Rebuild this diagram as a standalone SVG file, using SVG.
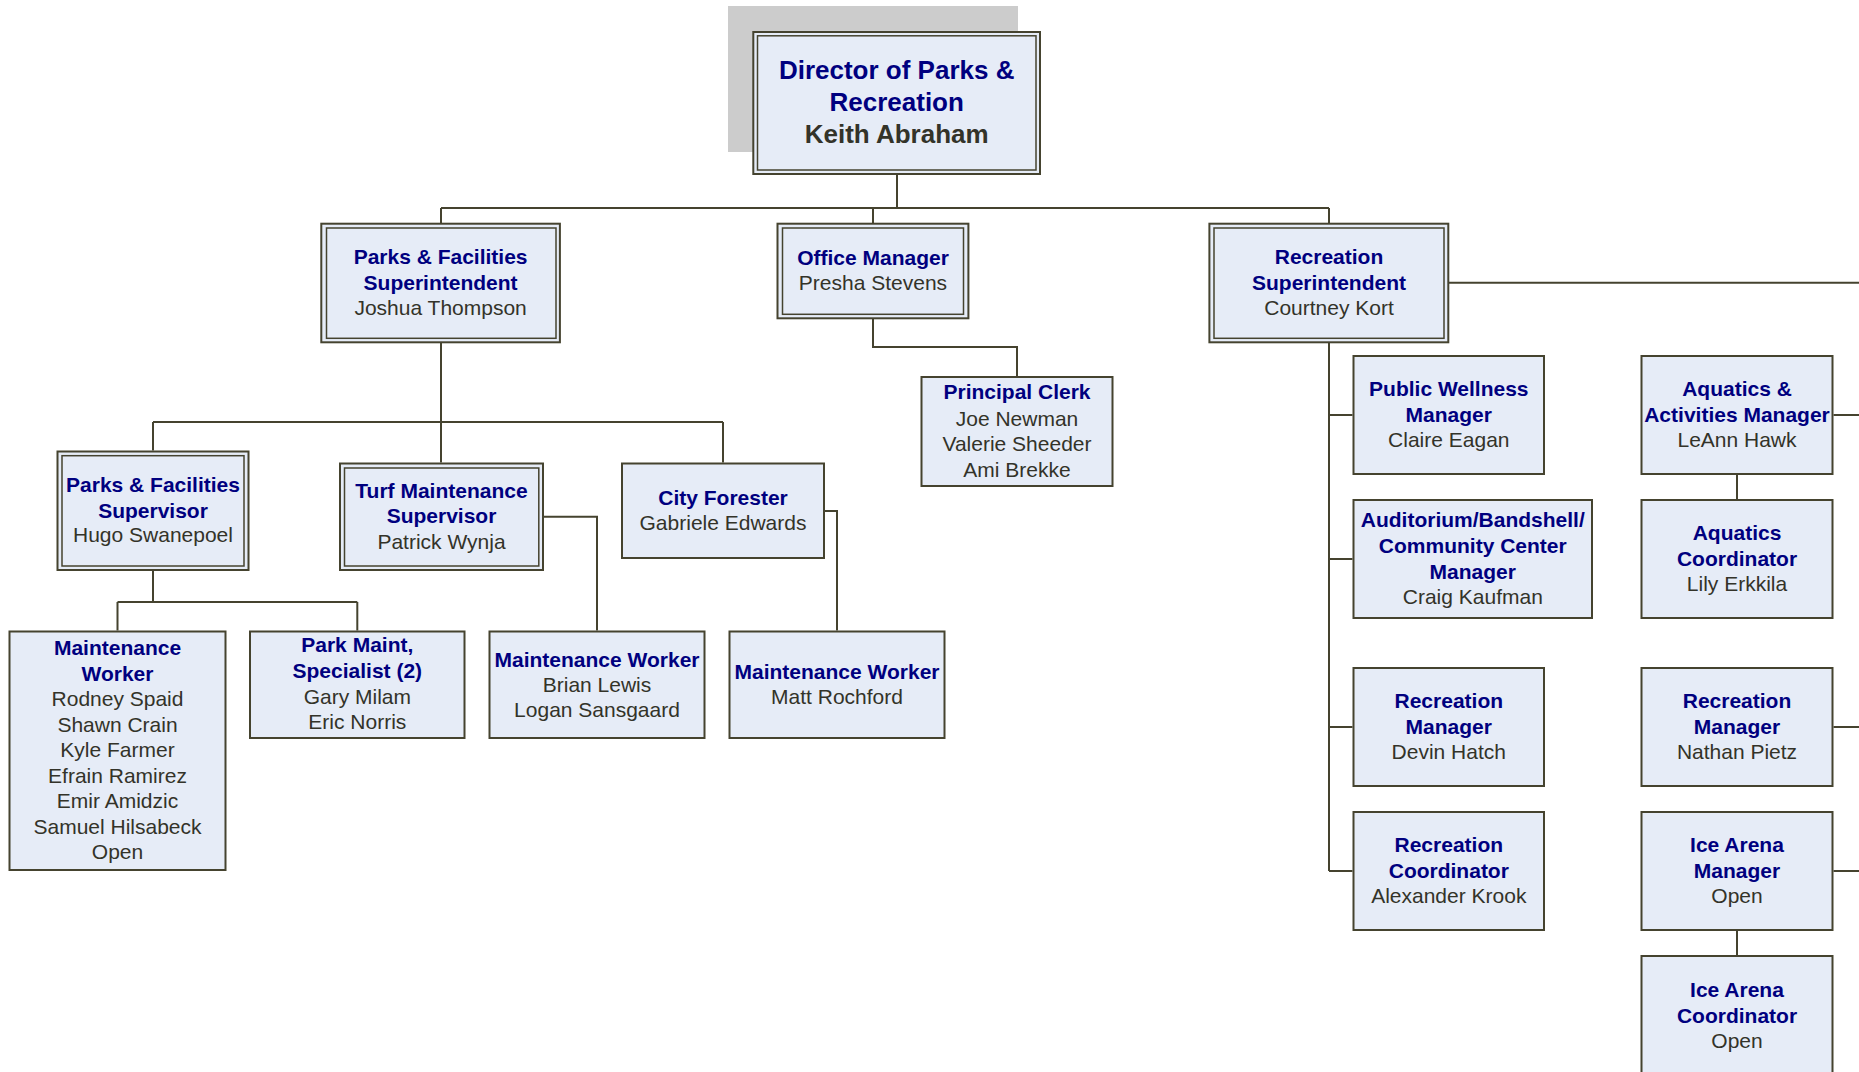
<svg xmlns="http://www.w3.org/2000/svg" width="1859" height="1072" viewBox="0 0 1859 1072">
<style>
.box{fill:#E6ECF7;stroke:#45432F;stroke-width:2}
.inner{fill:#E6ECF7;stroke:#45432F;stroke-width:1.5}
.conn{fill:none;stroke:#45432F;stroke-width:2}
text{font-family:"Liberation Sans",Arial,sans-serif;font-size:21px;text-anchor:middle}
.t{font-weight:bold;fill:#00007F}
.n{fill:#333329}
.big{font-size:26px}
</style>
<rect width="1859" height="1072" fill="#FFFFFF"/>
<g id="connectors" class="conn">
<path d="M897,175V208M441,208H1329M441,208V223M873,208V223M1329,208V223"/>
<path d="M873,319V347H1017V376"/>
<path d="M441,343V462.5M153,422H723M153,422V450.5M723,422V462.5"/>
<path d="M153,571V602M117.5,602H357.3M117.5,602V630.5M357.3,602V630.5"/>
<path d="M544,516.7H597V630.5"/>
<path d="M825,511H837V630.5"/>
<path d="M1449,282.7H1859"/>
<path d="M1329,343V871M1329,415H1352.5M1329,559H1352.5M1329,727H1352.5M1329,871H1352.5"/>
<path d="M1833.5,415H1859M1737,475V499"/>
<path d="M1833.5,727H1859M1833.5,871H1859M1737,931V955"/>
</g>
<g id="director">
<rect x="728" y="6" width="290" height="146" fill="#CCCCCC"/>
<rect class="box" x="753.3" y="32" width="286.7" height="142"/>
<rect class="inner" x="757.5" y="35.8" width="278.5" height="134.2"/>
<text class="big"><tspan class="t" x="896.7" y="79">Director of Parks &amp;</tspan><tspan class="t" x="896.7" y="111">Recreation</tspan><tspan class="n" x="896.7" y="143" font-weight="bold">Keith Abraham</tspan></text>
</g>
<g id="parks-superintendent">
<rect class="box" x="321.3" y="223.7" width="238.6" height="118.6"/>
<rect class="inner" x="326.5" y="228" width="229.5" height="110.3"/>
<text><tspan class="t" x="440.6" y="264">Parks &amp; Facilities</tspan><tspan class="t" x="440.6" y="290">Superintendent</tspan><tspan class="n" x="440.6" y="315">Joshua Thompson</tspan></text>
</g>
<g id="office-manager">
<rect class="box" x="777.5" y="223.7" width="190.9" height="94.6"/>
<rect class="inner" x="782.5" y="228" width="181" height="86.3"/>
<text><tspan class="t" x="873" y="265">Office Manager</tspan><tspan class="n" x="873" y="290">Presha Stevens</tspan></text>
</g>
<g id="recreation-superintendent">
<rect class="box" x="1209.4" y="223.7" width="238.9" height="118.6"/>
<rect class="inner" x="1214" y="228" width="230" height="110.3"/>
<text><tspan class="t" x="1329" y="264">Recreation</tspan><tspan class="t" x="1329" y="290">Superintendent</tspan><tspan class="n" x="1329" y="315">Courtney Kort</tspan></text>
</g>
<g id="principal-clerk">
<rect class="box" x="921.5" y="377" width="191" height="109"/>
<text><tspan class="t" x="1017" y="399.3">Principal Clerk</tspan><tspan class="n" x="1017" y="425.7">Joe Newman</tspan><tspan class="n" x="1017" y="450.7">Valerie Sheeder</tspan><tspan class="n" x="1017" y="476.7">Ami Brekke</tspan></text>
</g>
<g id="parks-supervisor">
<rect class="box" x="57.5" y="451.5" width="191" height="118.5"/>
<rect class="inner" x="62" y="455.7" width="182" height="110.3"/>
<text><tspan class="t" x="153" y="491.7">Parks &amp; Facilities</tspan><tspan class="t" x="153" y="517.7">Supervisor</tspan><tspan class="n" x="153" y="542.3">Hugo Swanepoel</tspan></text>
</g>
<g id="turf-supervisor">
<rect class="box" x="340" y="463.5" width="203" height="106.5"/>
<rect class="inner" x="344.5" y="468" width="194.3" height="98"/>
<text><tspan class="t" x="441.5" y="498.3">Turf Maintenance</tspan><tspan class="t" x="441.5" y="523.3">Supervisor</tspan><tspan class="n" x="441.5" y="549">Patrick Wynja</tspan></text>
</g>
<g id="city-forester">
<rect class="box" x="622" y="463.5" width="202" height="94.5"/>
<text><tspan class="t" x="723" y="505">City Forester</tspan><tspan class="n" x="723" y="530">Gabriele Edwards</tspan></text>
</g>
<g id="maintenance-worker-1">
<rect class="box" x="9.5" y="631.5" width="216" height="238.5"/>
<text><tspan class="t" x="117.5" y="655">Maintenance</tspan><tspan class="t" x="117.5" y="680.5">Worker</tspan><tspan class="n" x="117.5" y="706">Rodney Spaid</tspan><tspan class="n" x="117.5" y="731.5">Shawn Crain</tspan><tspan class="n" x="117.5" y="757">Kyle Farmer</tspan><tspan class="n" x="117.5" y="782.5">Efrain Ramirez</tspan><tspan class="n" x="117.5" y="808">Emir Amidzic</tspan><tspan class="n" x="117.5" y="833.5">Samuel Hilsabeck</tspan><tspan class="n" x="117.5" y="859">Open</tspan></text>
</g>
<g id="park-maint-specialist">
<rect class="box" x="250" y="631.5" width="214.5" height="106.5"/>
<text><tspan class="t" x="357.3" y="652.3">Park Maint,</tspan><tspan class="t" x="357.3" y="678.3">Specialist (2)</tspan><tspan class="n" x="357.3" y="704">Gary Milam</tspan><tspan class="n" x="357.3" y="729.3">Eric Norris</tspan></text>
</g>
<g id="maintenance-worker-2">
<rect class="box" x="489.5" y="631.5" width="215" height="106.5"/>
<text><tspan class="t" x="597" y="666.7">Maintenance Worker</tspan><tspan class="n" x="597" y="692.3">Brian Lewis</tspan><tspan class="n" x="597" y="717.3">Logan Sansgaard</tspan></text>
</g>
<g id="maintenance-worker-3">
<rect class="box" x="729.5" y="631.5" width="215" height="106.5"/>
<text><tspan class="t" x="837" y="679.3">Maintenance Worker</tspan><tspan class="n" x="837" y="704.3">Matt Rochford</tspan></text>
</g>
<g id="public-wellness-manager">
<rect class="box" x="1353.5" y="356" width="190.5" height="118"/>
<text><tspan class="t" x="1448.8" y="395.7">Public Wellness</tspan><tspan class="t" x="1448.8" y="421.7">Manager</tspan><tspan class="n" x="1448.8" y="446.7">Claire Eagan</tspan></text>
</g>
<g id="auditorium-manager">
<rect class="box" x="1353.5" y="500" width="238.5" height="118"/>
<text><tspan class="t" x="1472.8" y="527">Auditorium/Bandshell/</tspan><tspan class="t" x="1472.8" y="553">Community Center</tspan><tspan class="t" x="1472.8" y="578.5">Manager</tspan><tspan class="n" x="1472.8" y="604">Craig Kaufman</tspan></text>
</g>
<g id="recreation-manager-1">
<rect class="box" x="1353.5" y="668" width="190.5" height="118"/>
<text><tspan class="t" x="1448.8" y="708.3">Recreation</tspan><tspan class="t" x="1448.8" y="734.3">Manager</tspan><tspan class="n" x="1448.8" y="759.3">Devin Hatch</tspan></text>
</g>
<g id="recreation-coordinator">
<rect class="box" x="1353.5" y="812" width="190.5" height="118"/>
<text><tspan class="t" x="1448.8" y="852.3">Recreation</tspan><tspan class="t" x="1448.8" y="878.3">Coordinator</tspan><tspan class="n" x="1448.8" y="903.3">Alexander Krook</tspan></text>
</g>
<g id="aquatics-activities-manager">
<rect class="box" x="1641.5" y="356" width="191" height="118"/>
<text><tspan class="t" x="1737" y="395.7">Aquatics &amp;</tspan><tspan class="t" x="1737" y="421.7">Activities Manager</tspan><tspan class="n" x="1737" y="446.7">LeAnn Hawk</tspan></text>
</g>
<g id="aquatics-coordinator">
<rect class="box" x="1641.5" y="500" width="191" height="118"/>
<text><tspan class="t" x="1737" y="540">Aquatics</tspan><tspan class="t" x="1737" y="566">Coordinator</tspan><tspan class="n" x="1737" y="591">Lily Erkkila</tspan></text>
</g>
<g id="recreation-manager-2">
<rect class="box" x="1641.5" y="668" width="191" height="118"/>
<text><tspan class="t" x="1737" y="708.3">Recreation</tspan><tspan class="t" x="1737" y="734.3">Manager</tspan><tspan class="n" x="1737" y="759.3">Nathan Pietz</tspan></text>
</g>
<g id="ice-arena-manager">
<rect class="box" x="1641.5" y="812" width="191" height="118"/>
<text><tspan class="t" x="1737" y="852.3">Ice Arena</tspan><tspan class="t" x="1737" y="878.3">Manager</tspan><tspan class="n" x="1737" y="903.3">Open</tspan></text>
</g>
<g id="ice-arena-coordinator">
<rect class="box" x="1641.5" y="956" width="191" height="140"/>
<text><tspan class="t" x="1737" y="996.7">Ice Arena</tspan><tspan class="t" x="1737" y="1022.7">Coordinator</tspan><tspan class="n" x="1737" y="1047.7">Open</tspan></text>
</g>
</svg>
